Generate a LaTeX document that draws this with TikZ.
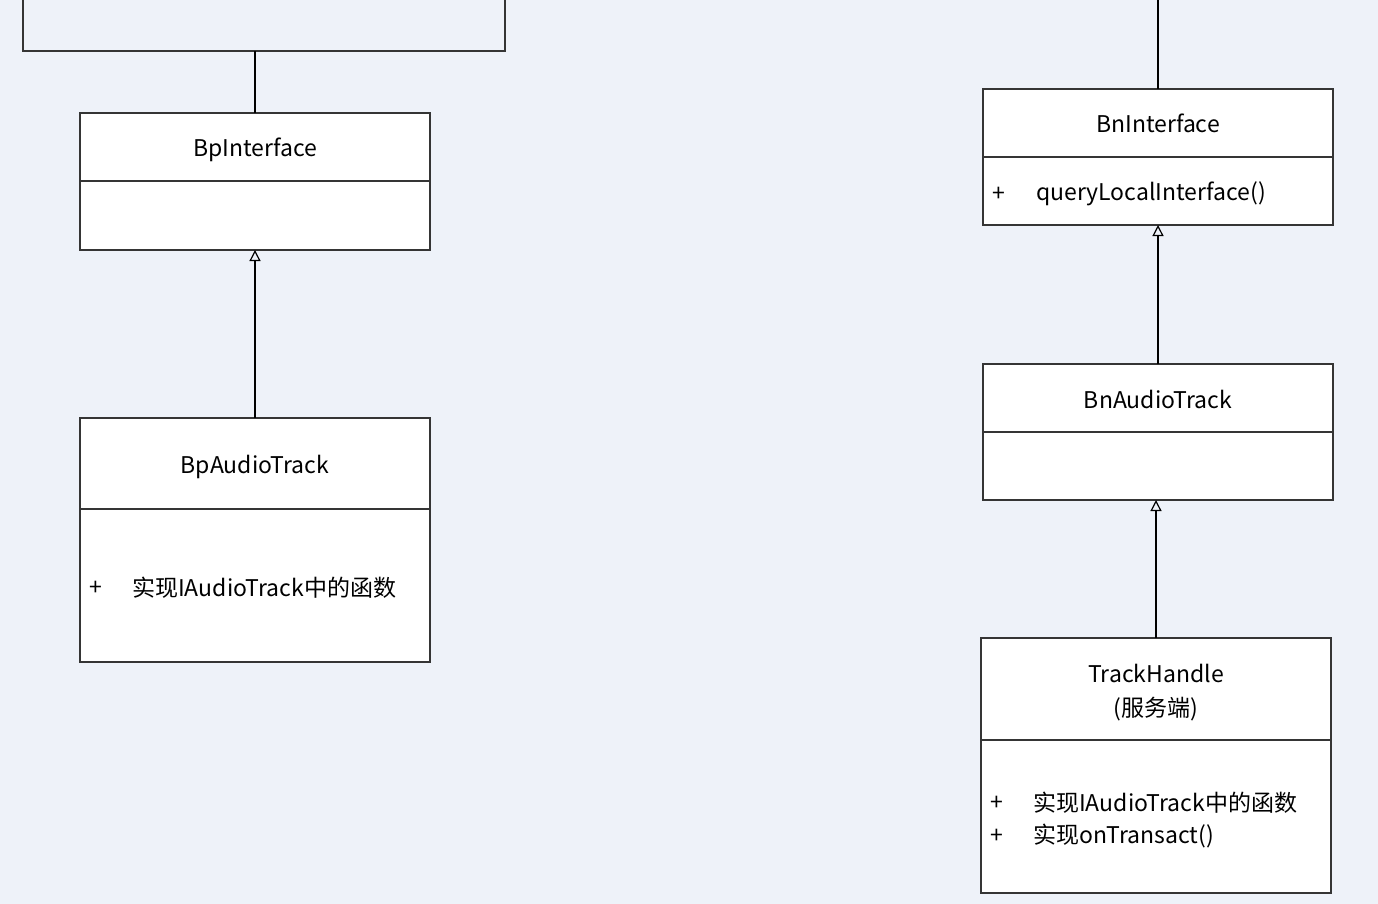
\documentclass[tikz,border=0pt]{standalone}
\usepackage{fontspec}
\setmainfont{Noto Sans CJK SC}
\usepackage{xcolor}
\usepackage{tikz}
\usetikzlibrary{arrows.meta,positioning}
\definecolor{bgpaper}{HTML}{EEF2F9}
\definecolor{umlline}{HTML}{353535}

\begin{document}
\begin{tikzpicture}[x=1pt,y=-1pt,
  clshead/.style={draw=umlline,fill=white,line width=1.3pt,minimum width=350pt,inner sep=0pt,outer sep=0pt,align=center,
    text height=20pt,text depth=0pt,font=\fontsize{23}{34}\selectfont},
  clsbody/.style={draw=umlline,fill=white,line width=1.3pt,minimum width=350pt,inner sep=0pt,outer sep=0pt},
  member/.style={anchor=west,inner sep=0pt,font=\fontsize{23}{26}\selectfont},
  inherit/.style={-{Triangle[open,length=11pt,width=11pt]},line width=1.2pt,draw=black}]
% Background
\fill[bgpaper] (0,0) rectangle (1378,904);
\useasboundingbox (0,0) rectangle (1378,904);

% Parent boxes cut off at the top
\node[clsbody,fill=none,minimum width=482pt,minimum height=70pt] (topl) at (264,16) {};

% Proxy side
\node[clshead,minimum height=68pt] (bpi) at (255,147) {BpInterface};
\node[clsbody,minimum height=69pt,below=0pt of bpi] (bpib) {};
\node[clshead,minimum height=91pt] (bpa) at (255,463.5) {BpAudioTrack};
\node[clsbody,minimum height=153pt,below=0pt of bpa] (bpab) {};
\node[member] (bpam1) at (89,588) {+};
\node[member] (bpam2) at (132,588) {实现IAudioTrack中的函数};

% Native side
\node[clshead,minimum height=68pt] (bni) at (1158,123) {BnInterface};
\node[clsbody,minimum height=68pt,below=0pt of bni] (bnib) {};
\node[member] (bnim1) at (992,194) {+};
\node[member] (bnim2) at (1036,194) {queryLocalInterface()};
\node[clshead,minimum height=68pt] (bna) at (1158,398) {BnAudioTrack};
\node[clsbody,minimum height=68pt,below=0pt of bna] (bnab) {};
\node[clshead,minimum height=102pt,text height=55pt,text depth=0pt] (th) at (1156,689) {TrackHandle\\(服务端)};
\node[clsbody,minimum height=153pt,below=0pt of th] (thb) {};
\node[member] (thm1) at (990,803) {+};
\node[member] (thm2) at (1033,803) {实现IAudioTrack中的函数};
\node[member] (thm3) at (990,836) {+};
\node[member] (thm4) at (1033,836) {实现onTransact()};

% Connectors
\draw[line width=1.2pt] (bpi.north) -- (bpi.north |- topl.south);
\draw[line width=1.2pt] (bni.north) -- (bni.north |- 0,-2);
\draw[inherit] (bpa.north) -- (bpib.south);
\draw[inherit] (bna.north) -- (bnib.south);
\draw[inherit] (th.north) -- (th.north |- bnab.south);
\end{tikzpicture}
\end{document}
